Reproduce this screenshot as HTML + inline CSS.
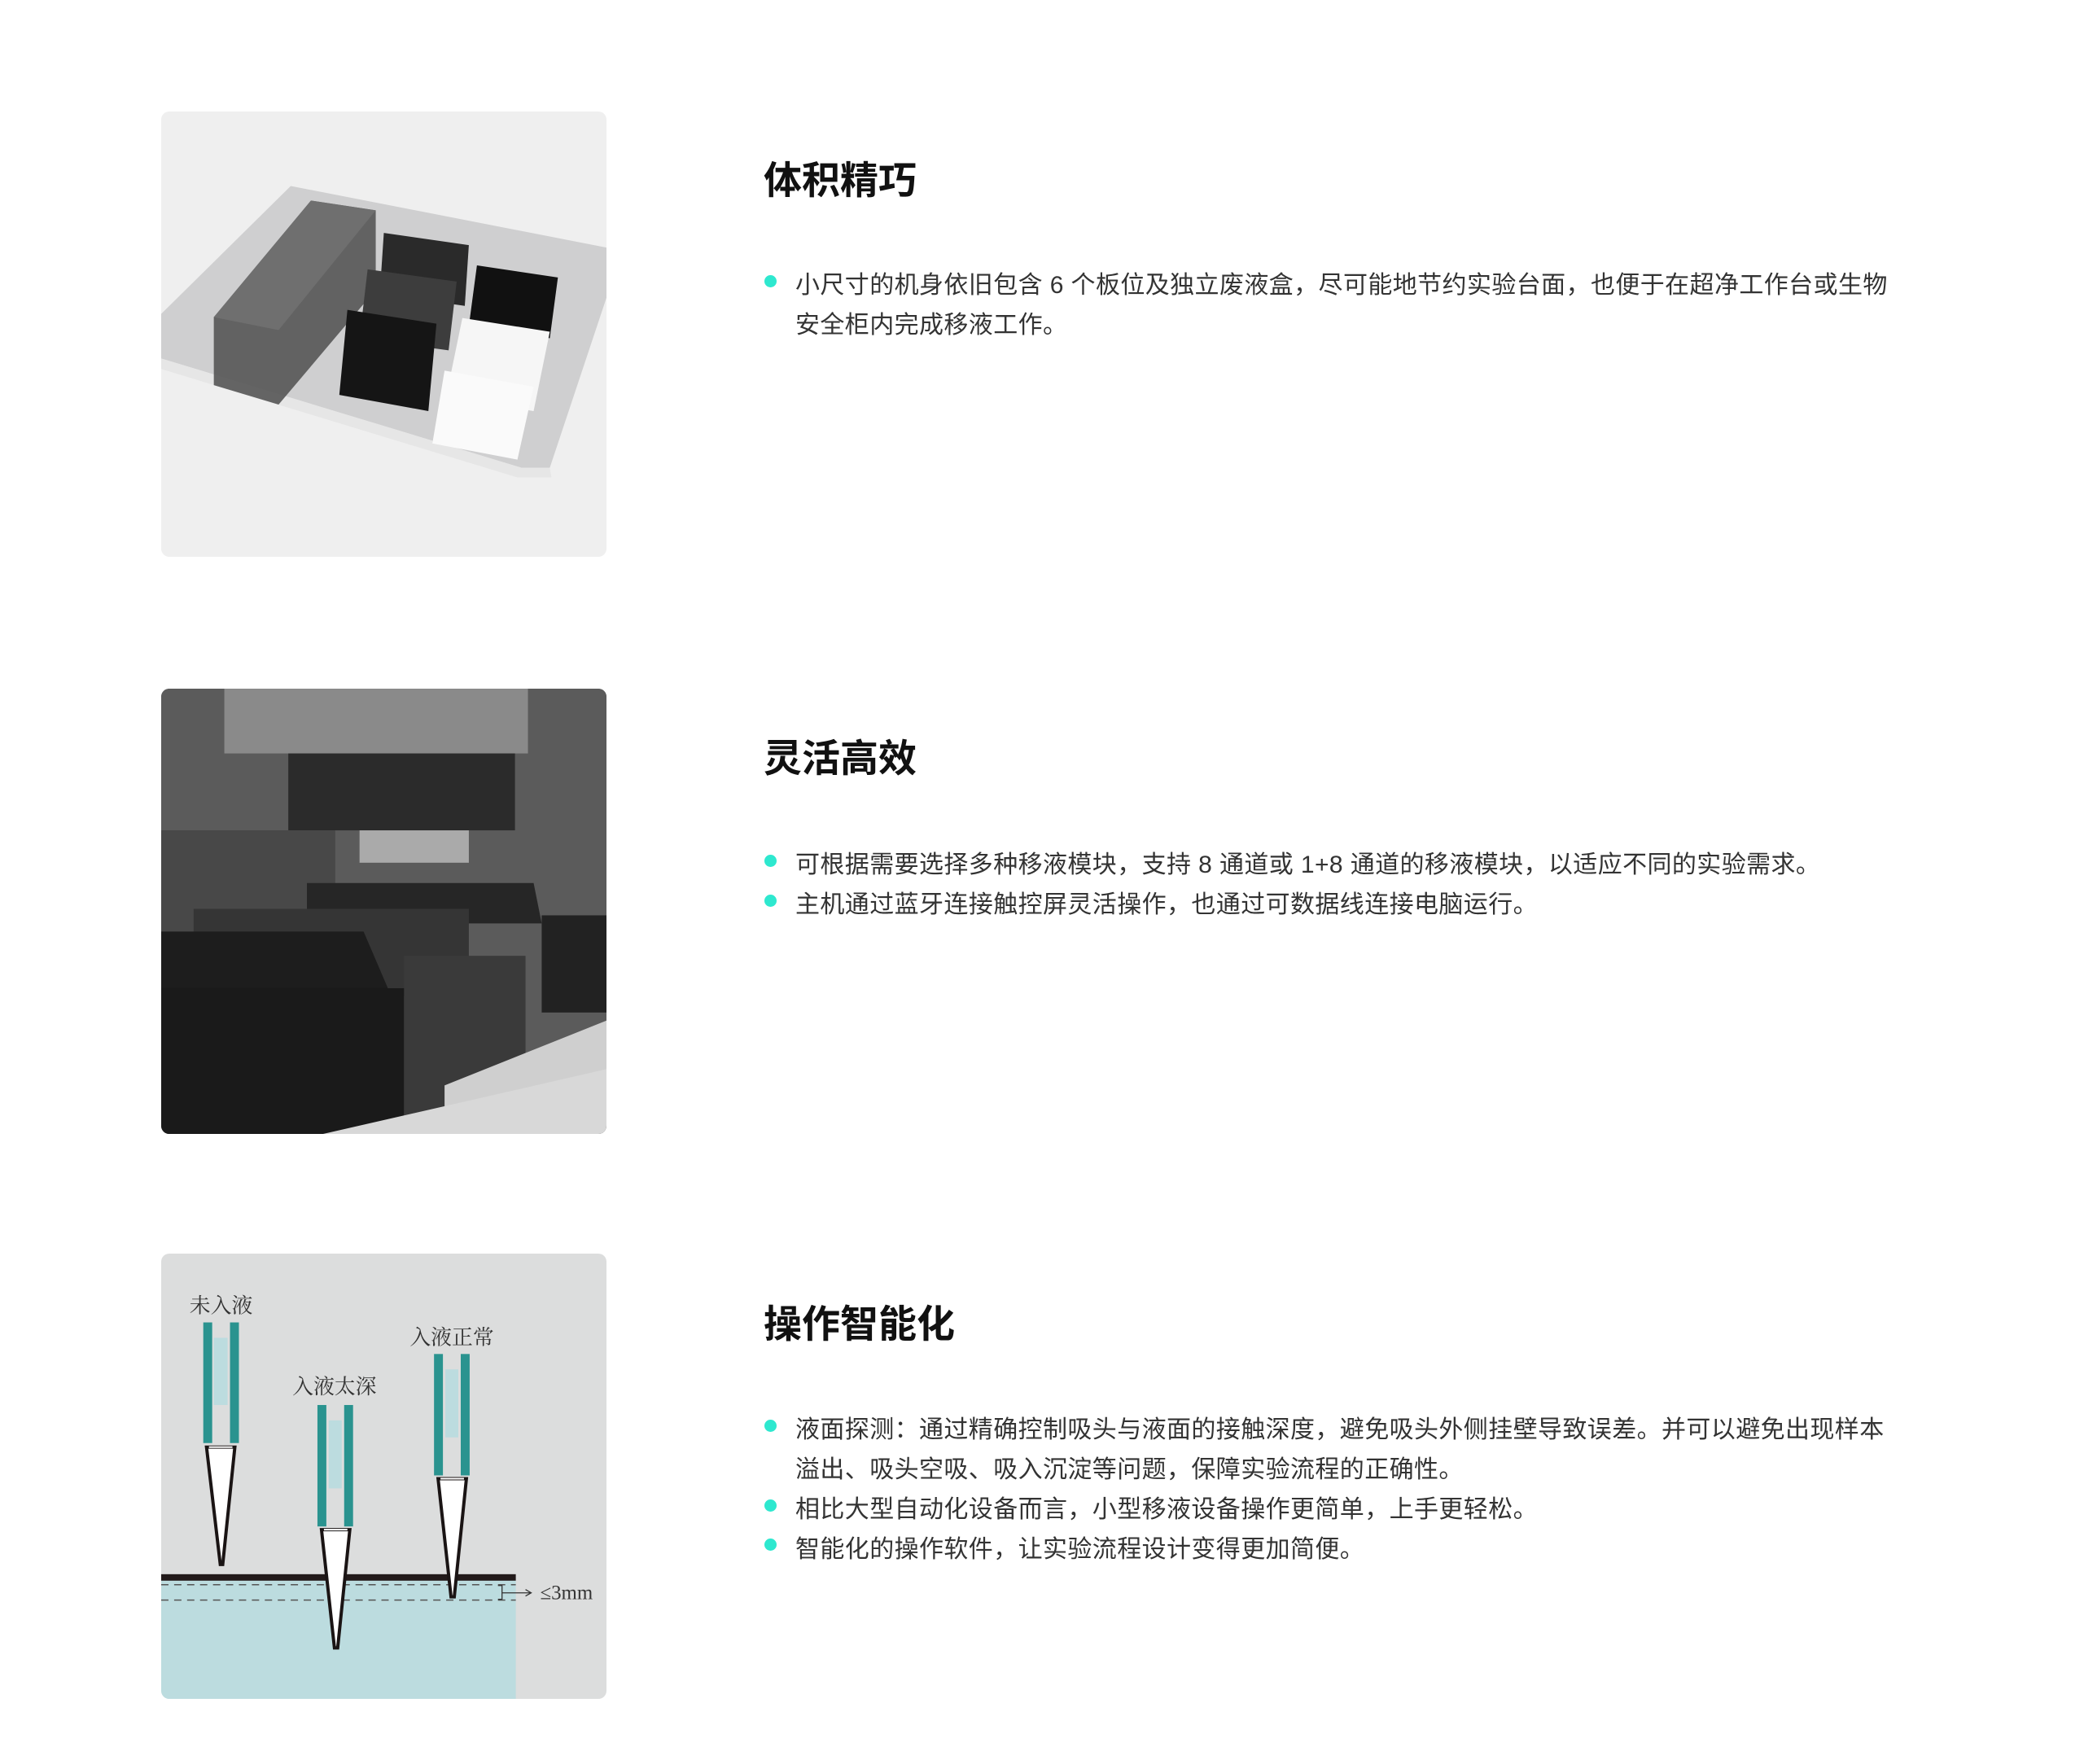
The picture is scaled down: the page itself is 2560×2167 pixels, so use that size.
<!DOCTYPE html>
<html><head><meta charset="utf-8"><style>
body{margin:0;background:#fff;width:2560px;height:2167px;position:relative;overflow:hidden;font-family:"Liberation Sans","Noto Sans CJK SC",sans-serif;}
.img{position:absolute;left:198px;width:547px;height:547px;border-radius:10px;overflow:hidden;}
.t{position:absolute;left:938px;font-size:47px;font-weight:bold;color:#111;line-height:60px;}
.b{position:absolute;left:977px;font-size:30px;color:#333;line-height:49px;white-space:nowrap;letter-spacing:0.4px;}
.d{position:absolute;left:939px;width:15px;height:15px;border-radius:50%;background:#2ee8cf;}
</style></head><body>

<div class="img" style="top:137px;background:#efefef">
<svg width="547" height="547" viewBox="0 0 550 550">
<polygon points="160,92 550,168 550,230 480,440 445,440 0,305 0,250" fill="#cfcfd0"/>
<polygon points="0,305 445,440 480,440 482,452 440,452 0,318" fill="#e6e6e6"/>
<polygon points="65,254 185,110 265,122 265,220 145,362 65,338" fill="#555" opacity="0.9"/>
<polygon points="65,254 185,110 265,122 145,270" fill="#6f6f6f"/>
<polygon points="275,150 380,165 375,240 270,225" fill="#2a2a2a"/>
<polygon points="255,195 365,210 355,295 245,280" fill="#3d3d3d"/>
<polygon points="230,245 340,262 330,370 220,350" fill="#151515"/>
<polygon points="390,190 490,205 480,280 380,265" fill="#111"/>
<polygon points="372,255 480,272 460,370 352,352" fill="#f6f6f6"/>
<polygon points="350,320 460,340 440,430 335,410" fill="#fafafa"/>
</svg></div>

<div class="img" style="top:846px;background:#555">
<svg width="547" height="547" viewBox="0 0 550 550">
<rect width="550" height="550" fill="#5b5b5b"/>
<rect x="78" y="0" width="375" height="80" fill="#8a8a8a"/>
<rect x="157" y="80" width="280" height="95" fill="#2b2b2b"/>
<rect x="245" y="175" width="135" height="40" fill="#aaa"/>
<rect x="0" y="175" width="215" height="220" fill="#484848"/>
<polygon points="180,240 460,240 470,290 180,290" fill="#262626"/>
<polygon points="40,272 380,272 380,380 40,380" fill="#353535"/>
<polygon points="0,300 250,300 280,370 0,370" fill="#1d1d1d"/>
<rect x="0" y="370" width="300" height="180" fill="#1a1a1a"/>
<rect x="300" y="330" width="150" height="220" fill="#3a3a3a"/>
<polygon points="350,490 550,410 550,480 350,550" fill="#cfcfcf"/>
<polygon points="200,550 550,470 550,550" fill="#d8d8d8"/>
<rect x="470" y="280" width="80" height="120" fill="#222"/>
</svg></div>

<div class="img" style="top:1540px;background:#dcdddd">
<svg width="547" height="547" viewBox="0 0 550 550" font-family="Liberation Serif,'Noto Serif CJK SC',serif">
<g transform="translate(0,9)">
<rect x="0" y="395" width="438" height="160" fill="#bcdcdf"/>
<rect x="0" y="387" width="438" height="8" fill="#221a1a"/>
<line x1="0" y1="400" x2="438" y2="400" stroke="#555" stroke-width="1.5" stroke-dasharray="9,7"/>
<line x1="0" y1="419" x2="438" y2="419" stroke="#555" stroke-width="1.5" stroke-dasharray="9,7"/>
<path d="M416 401 H421 V418 H416 M421 410 H456 M450 406 L457 410 L450 414" fill="none" stroke="#333" stroke-width="1.3"/>
<text x="468" y="418" font-size="25" fill="#333">≤3mm</text>
<g fill="#2a938f">
<rect x="52" y="76" width="11" height="149"/><rect x="85" y="76" width="11" height="149"/>
<rect x="193" y="178" width="11" height="150"/><rect x="226" y="178" width="11" height="150"/>
<rect x="337" y="115" width="11" height="150"/><rect x="370" y="115" width="11" height="150"/>
</g>
<g fill="#bcdcdf">
<rect x="65" y="95" width="17" height="83"/><rect x="207" y="197" width="16" height="84"/><rect x="351" y="134" width="16" height="84"/>
</g>
<g fill="#fff" stroke="#1a1414" stroke-width="4">
<polygon points="56,230 91,230 76,375 73,375"/>
<polygon points="198,332 233,332 218,478 214,478"/>
<polygon points="342,269 377,269 362,415 358,415"/>
</g>
<g fill="#fff"><rect x="59" y="229" width="29" height="2"/><rect x="201" y="331" width="29" height="2"/><rect x="345" y="268" width="29" height="2"/></g>
<g font-size="26" fill="#333">
<text x="35" y="64">未入液</text>
<text x="162" y="164">入液太深</text>
<text x="307" y="103">入液正常</text>
</g>
</g>
</svg></div>

<div class="t" style="top:192px">体积精巧</div>
<div class="d" style="top:338px"></div>
<div class="b" style="top:326px">小尺寸的机身依旧包含 6 个板位及独立废液盒，尽可能地节约实验台面，也便于在超净工作台或生物<br>安全柜内完成移液工作。</div>

<div class="t" style="top:902px">灵活高效</div>
<div class="d" style="top:1050px"></div>
<div class="d" style="top:1099px"></div>
<div class="b" style="top:1038px">可根据需要选择多种移液模块，支持 8 通道或 1+8 通道的移液模块，以适应不同的实验需求。<br>主机通过蓝牙连接触控屏灵活操作，也通过可数据线连接电脑运行。</div>

<div class="t" style="top:1597px">操作智能化</div>
<div class="d" style="top:1744px"></div>
<div class="d" style="top:1842px"></div>
<div class="d" style="top:1890px"></div>
<div class="b" style="top:1732px">液面探测：通过精确控制吸头与液面的接触深度，避免吸头外侧挂壁导致误差。并可以避免出现样本<br>溢出、吸头空吸、吸入沉淀等问题，保障实验流程的正确性。<br>相比大型自动化设备而言，小型移液设备操作更简单，上手更轻松。<br>智能化的操作软件，让实验流程设计变得更加简便。</div>
</body></html>
